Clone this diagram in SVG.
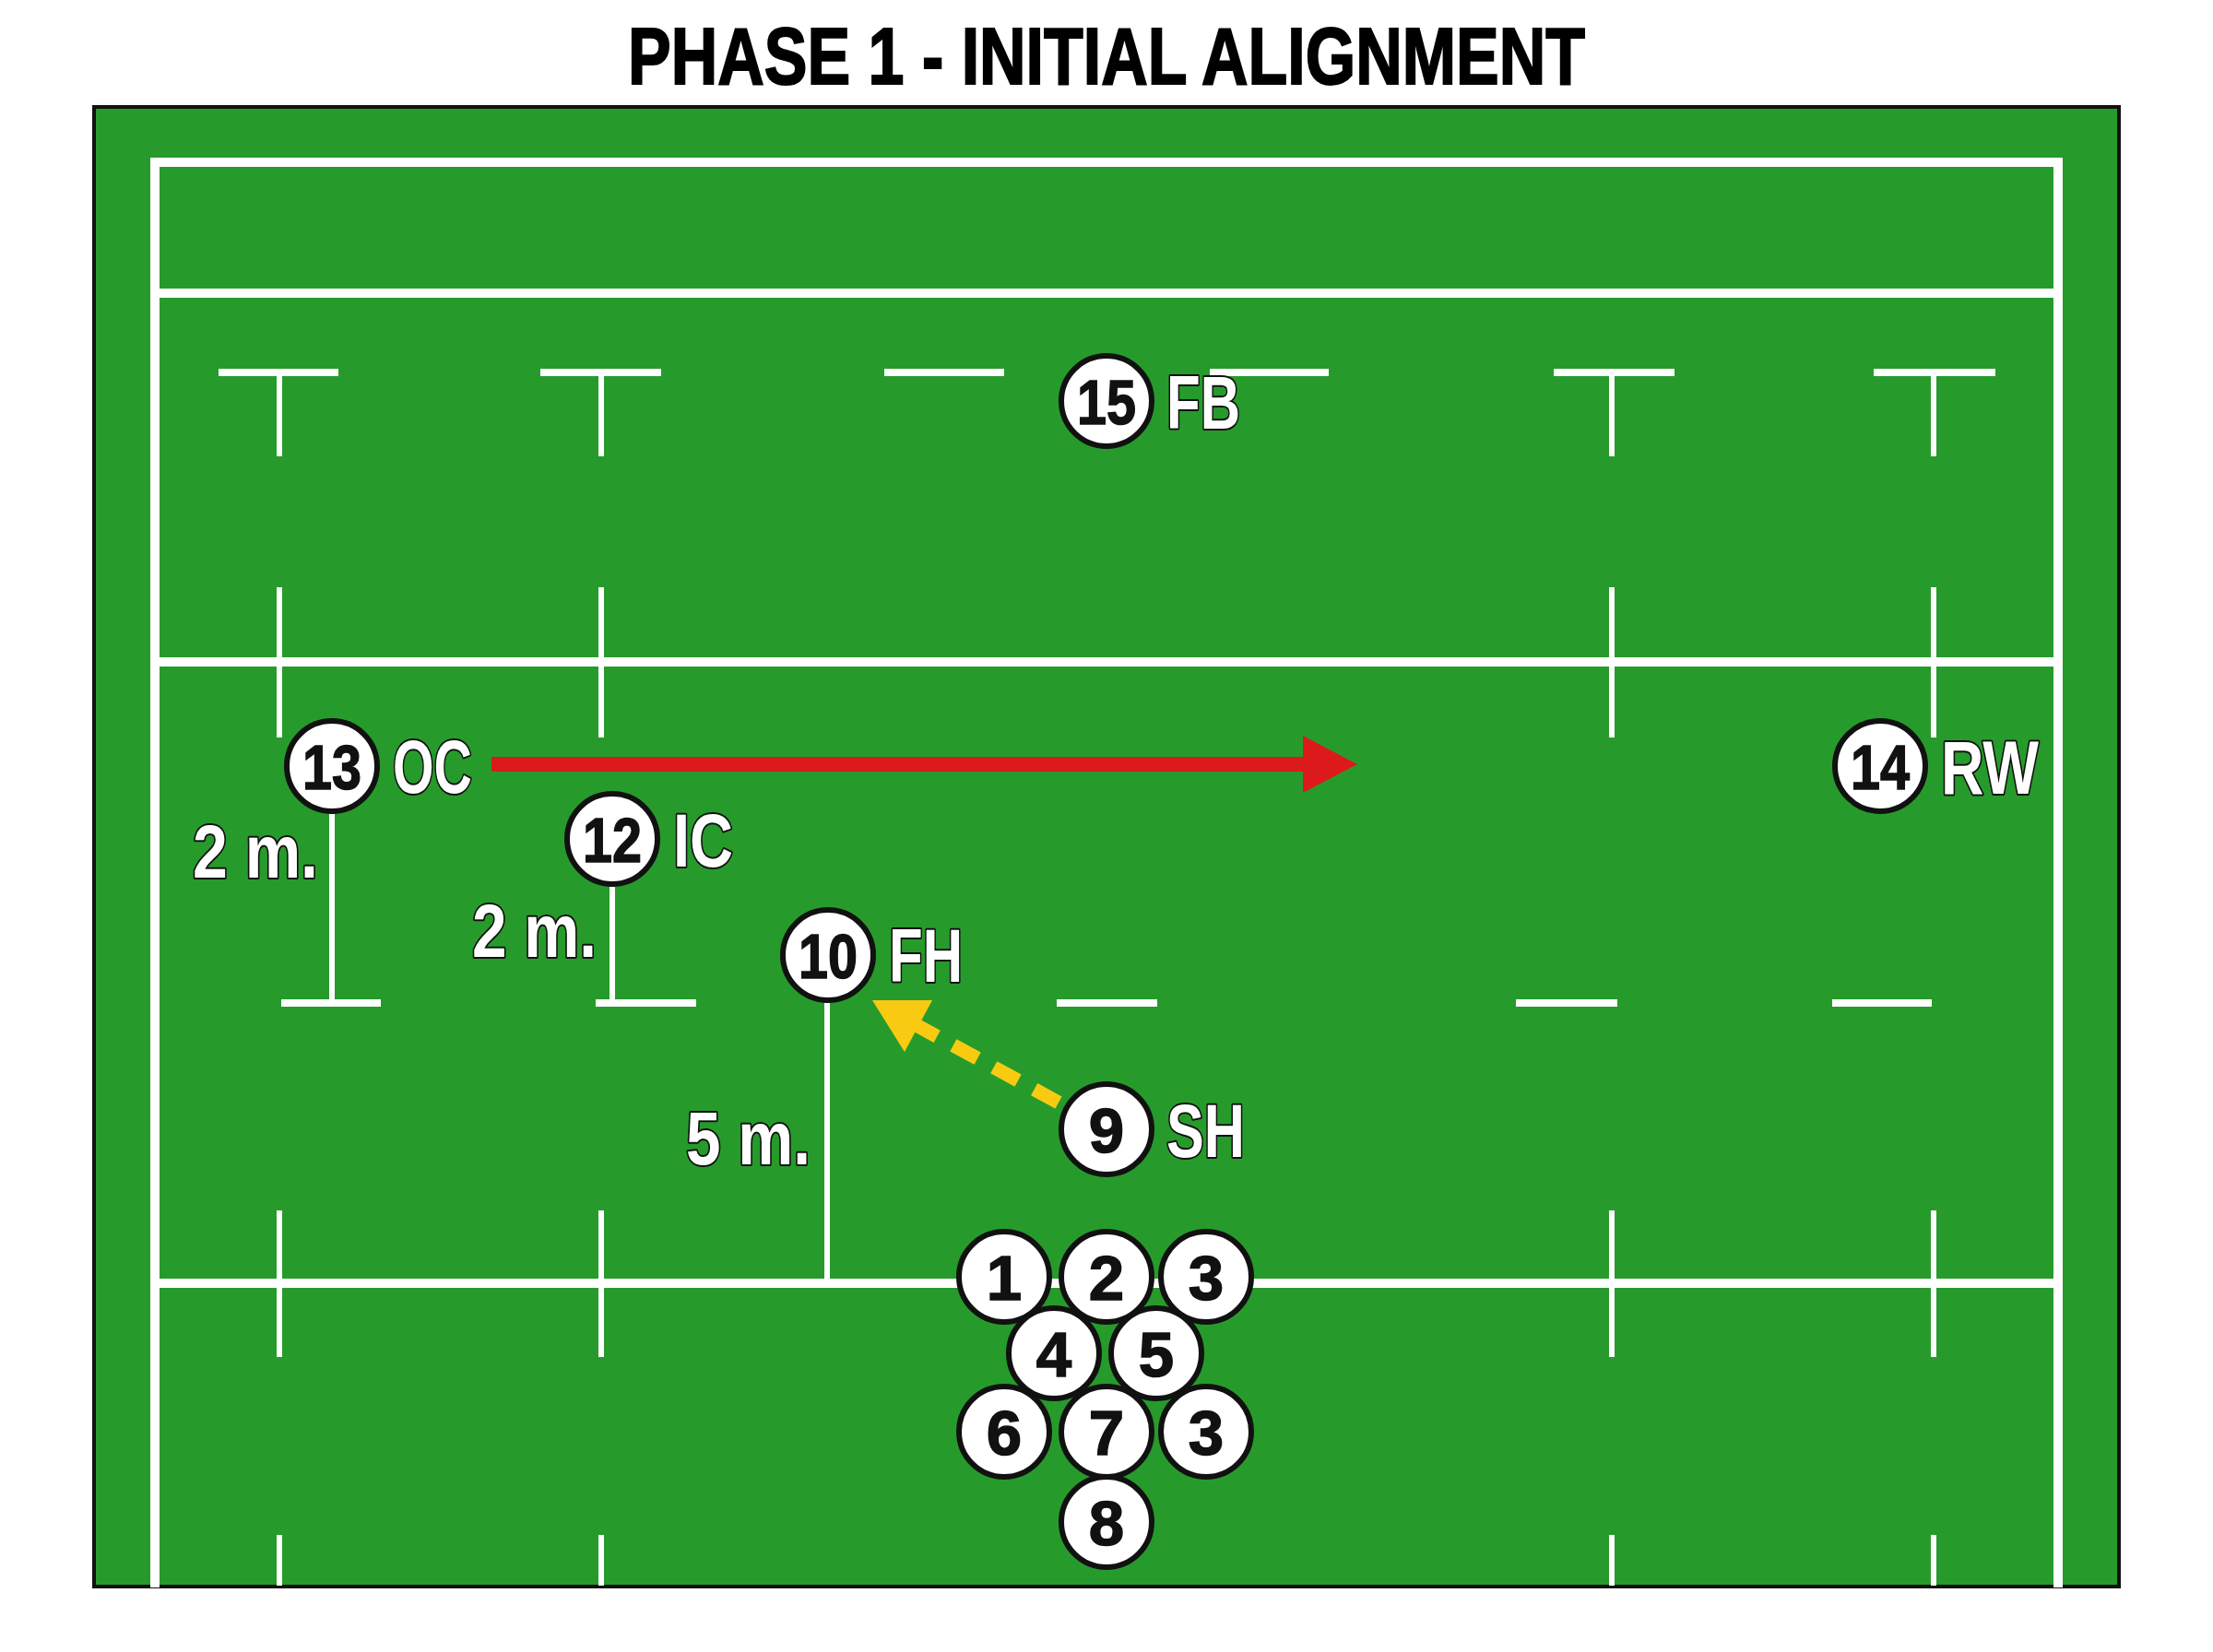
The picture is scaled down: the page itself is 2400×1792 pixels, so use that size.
<svg xmlns="http://www.w3.org/2000/svg" width="2400" height="1792" viewBox="0 0 2400 1792">
<style>
.ln{stroke:#fff;fill:none;stroke-linecap:butt}
.main{stroke-width:10}
.bar{stroke-width:8}
.tick{stroke-width:6}
.pc{fill:#fff;stroke:#111;stroke-width:6}
.num{font-family:"Liberation Sans",Arial,sans-serif;font-weight:bold;font-size:69px;fill:#111;stroke:#111;stroke-width:1.5;text-anchor:middle}
.lbl{font-family:"Liberation Sans",Arial,sans-serif;font-weight:bold;font-size:81px;fill:#fff;stroke:#111;stroke-width:4;paint-order:stroke;stroke-linejoin:round}
.title{font-family:"Liberation Sans",Arial,sans-serif;font-weight:bold;font-size:88px;fill:#000;stroke:#000;stroke-width:2;text-anchor:middle}
</style>
<rect x="0" y="0" width="2400" height="1792" fill="#fff"/>
<text class="title" x="1200" y="91" textLength="1038" lengthAdjust="spacingAndGlyphs">PHASE 1 - INITIAL ALIGNMENT</text>

<g id="field">
  <rect x="102" y="116" width="2196" height="1605" fill="#269B2B" stroke="#111" stroke-width="4"/>
  <path class="ln main" d="M168,1722 V176 H2232 V1722"/>
  <path class="ln main" d="M173,318 H2227 M173,718 H2227 M173,1392 H2227"/>
  <path class="ln bar" d="M237,404 H367 M586,404 H717 M959,404 H1089 M1312,404 H1441 M1685,404 H1816 M2032,404 H2164"/>
  <path class="ln tick" d="M303,408 V495 M652,408 V495 M1748,408 V495 M2097,408 V495"/>
  <path class="ln tick" d="M303,637 V800 M652,637 V800 M1748,637 V800 M2097,637 V800"/>
  <path class="ln tick" d="M303,1313 V1472 M652,1313 V1472 M1748,1313 V1472 M2097,1313 V1472"/>
  <path class="ln tick" d="M303,1665 V1720 M652,1665 V1720 M1748,1665 V1720 M2097,1665 V1720"/>
  <path class="ln bar" d="M305,1088 H413 M646,1088 H755 M1146,1088 H1255 M1644,1088 H1754 M1987,1088 H2095"/>
</g>

<g id="measures">
  <path class="ln tick" d="M360,883 V1088 M664,962 V1088 M897,1088 V1390"/>
  <text class="lbl" x="209" y="952" textLength="136" lengthAdjust="spacingAndGlyphs">2 m.</text>
  <text class="lbl" x="512" y="1038" textLength="135" lengthAdjust="spacingAndGlyphs">2 m.</text>
  <text class="lbl" x="744" y="1263" textLength="135" lengthAdjust="spacingAndGlyphs">5 m.</text>
</g>

<g id="connectors">
  <g id="run-13">
    <path d="M533,829 H1416" stroke="#DC1A1C" stroke-width="16" fill="none"/>
    <polygon points="1413,798 1472,829 1413,860" fill="#DC1A1C"/>
  </g>
  <g id="pass-9-10">
    <path d="M1148,1196 L990,1110" stroke="#F8CB12" stroke-width="15" fill="none" stroke-dasharray="30 20"/>
    <polygon points="946,1085 1011,1085 981,1141" fill="#F8CB12"/>
  </g>
</g>

<g id="p15"><circle class="pc" cx="1200" cy="435" r="49"/><text class="num" x="1200" y="460" textLength="64" lengthAdjust="spacingAndGlyphs">15</text><text class="lbl" x="1265" y="465" textLength="80" lengthAdjust="spacingAndGlyphs">FB</text></g>
<g id="p13"><circle class="pc" cx="360" cy="831" r="49"/><text class="num" x="360" y="856" textLength="64" lengthAdjust="spacingAndGlyphs">13</text><text class="lbl" x="426" y="860" textLength="86" lengthAdjust="spacingAndGlyphs">OC</text></g>
<g id="p14"><circle class="pc" cx="2039" cy="831" r="49"/><text class="num" x="2039" y="856" textLength="64" lengthAdjust="spacingAndGlyphs">14</text><text class="lbl" x="2105" y="861" textLength="106" lengthAdjust="spacingAndGlyphs">RW</text></g>
<g id="p12"><circle class="pc" cx="664" cy="910" r="49"/><text class="num" x="664" y="935" textLength="64" lengthAdjust="spacingAndGlyphs">12</text><text class="lbl" x="730" y="940" textLength="65" lengthAdjust="spacingAndGlyphs">IC</text></g>
<g id="p10"><circle class="pc" cx="898" cy="1036" r="49"/><text class="num" x="898" y="1061" textLength="64" lengthAdjust="spacingAndGlyphs">10</text><text class="lbl" x="964" y="1065" textLength="80" lengthAdjust="spacingAndGlyphs">FH</text></g>
<g id="p9"><circle class="pc" cx="1200" cy="1225" r="49"/><text class="num" x="1200" y="1250">9</text><text class="lbl" x="1265" y="1255" textLength="85" lengthAdjust="spacingAndGlyphs">SH</text></g>

<g id="p1"><circle class="pc" cx="1089" cy="1385" r="49"/><text class="num" x="1089" y="1410">1</text></g>
<g id="p2"><circle class="pc" cx="1200" cy="1385" r="49"/><text class="num" x="1200" y="1410">2</text></g>
<g id="p3a"><circle class="pc" cx="1308" cy="1385" r="49"/><text class="num" x="1308" y="1410">3</text></g>
<g id="p4"><circle class="pc" cx="1143" cy="1468" r="49"/><text class="num" x="1143" y="1493">4</text></g>
<g id="p5"><circle class="pc" cx="1254" cy="1468" r="49"/><text class="num" x="1254" y="1493">5</text></g>
<g id="p6"><circle class="pc" cx="1089" cy="1553" r="49"/><text class="num" x="1089" y="1578">6</text></g>
<g id="p7"><circle class="pc" cx="1200" cy="1553" r="49"/><text class="num" x="1200" y="1578">7</text></g>
<g id="p3b"><circle class="pc" cx="1308" cy="1553" r="49"/><text class="num" x="1308" y="1578">3</text></g>
<g id="p8"><circle class="pc" cx="1200" cy="1651" r="49"/><text class="num" x="1200" y="1676">8</text></g>
</svg>
